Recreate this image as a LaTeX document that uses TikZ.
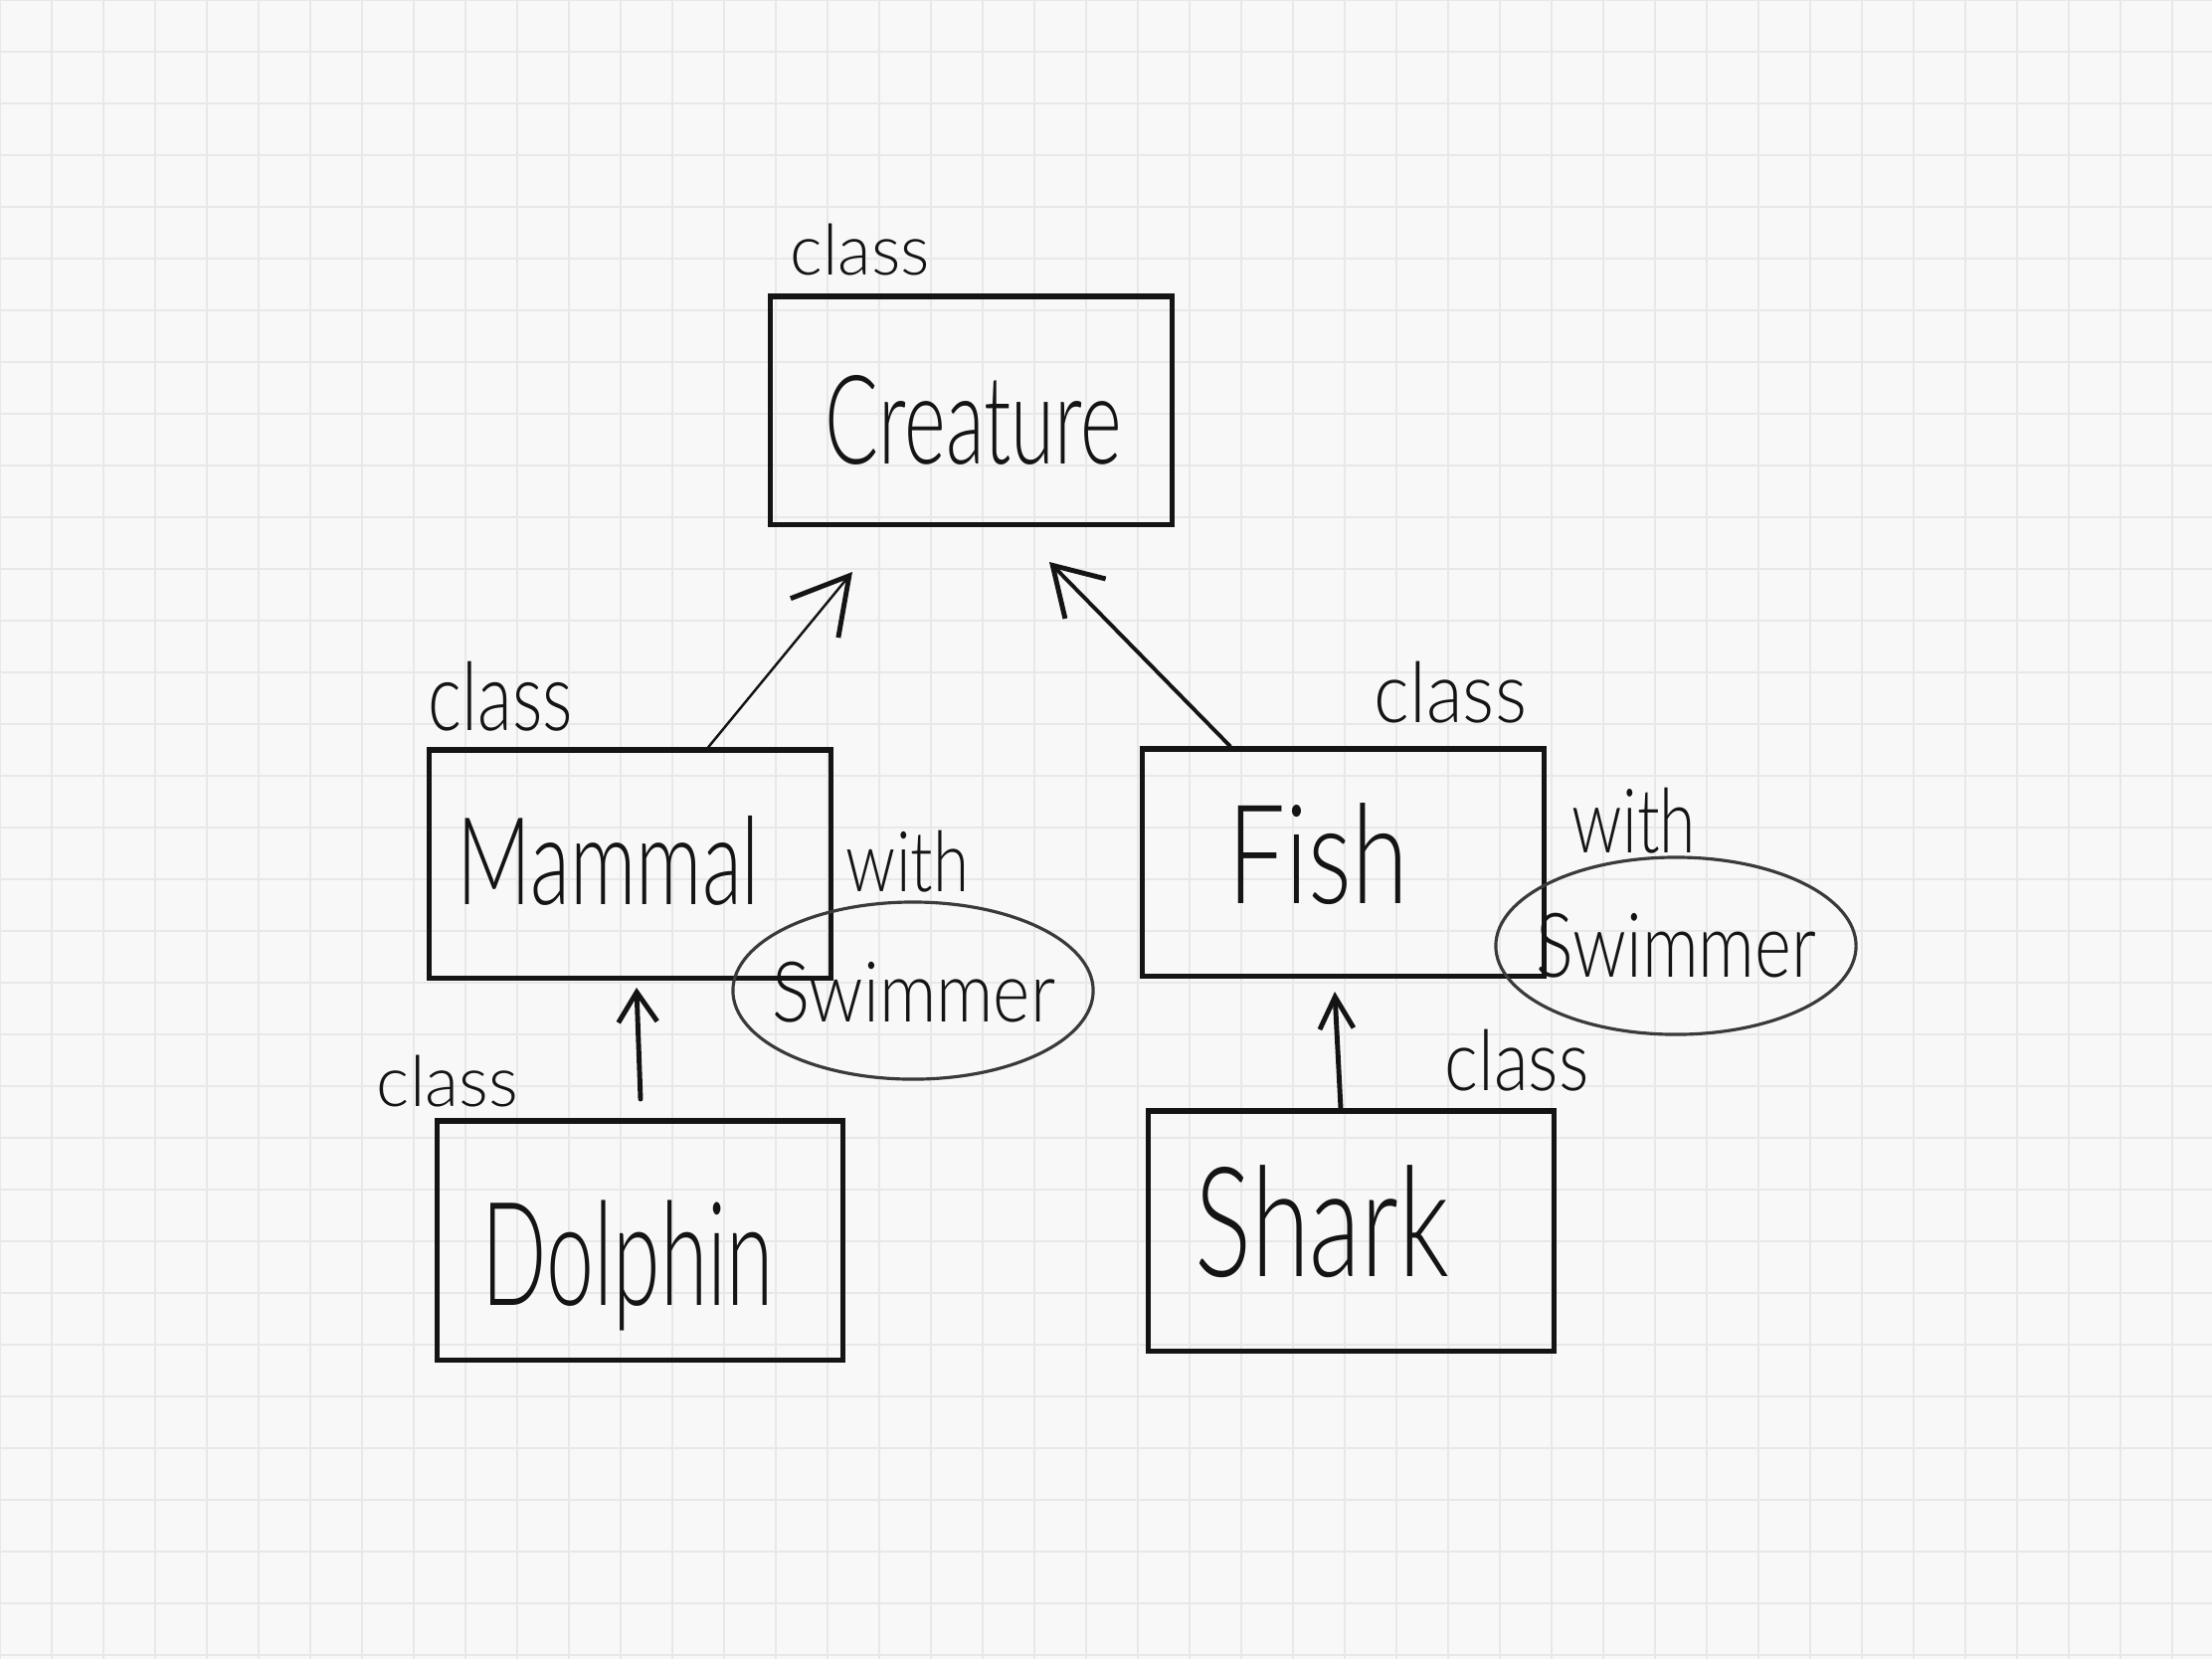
\documentclass[tikz,border=0pt]{standalone}
\usepackage{graphicx}
\usepackage{fontspec}
\newfontfamily\handfont{Lato Light}
\usetikzlibrary{arrows.meta,shapes.geometric}
\definecolor{paper}{HTML}{F8F8F8}
\definecolor{gridc}{HTML}{E8E8E8}
\definecolor{ink}{HTML}{141414}
\definecolor{ovalc}{HTML}{3A3A3A}
\newcommand\hw[3]{\resizebox*{#1cm}{#2cm}{\handfont #3}}
\begin{document}
\begin{tikzpicture}[x=0.01cm,y=-0.01cm,
  box/.style={draw=ink,line width=1.45pt,inner sep=0pt,rectangle},
  oval/.style={draw=ovalc,line width=0.9pt,ellipse,inner sep=0pt,minimum width=3.62cm,minimum height=1.78cm},
  lbl/.style={inner sep=0pt,text=ink},
  gl/.style={draw=gridc,line width=0.5pt},
  arr/.style={draw=ink,line cap=round,line join=round}
]
\useasboundingbox (0,0) rectangle (2224,1668);
\fill[paper] (0,0) rectangle (2224,1668);
\foreach \i in {0,...,42} \draw[gl] (\i*52,0) -- (\i*52,1668);
\foreach \j in {0,...,32} \draw[gl] (0,\j*52) -- (2224,\j*52);

% boxes
\node[box,minimum width=4.03cm,minimum height=2.29cm] (creature) at (976.5,412.5) {};
\node[box,minimum width=4.03cm,minimum height=2.29cm] (mammal) at (633.5,868.5) {};
\node[box,minimum width=4.03cm,minimum height=2.28cm] (fish) at (1350.5,867) {};
\node[box,minimum width=4.07cm,minimum height=2.40cm] (dolphin) at (643.5,1247) {};
\node[box,minimum width=4.07cm,minimum height=2.41cm] (shark) at (1358.5,1237.5) {};

% ellipses
\node[oval] (swim1) at (918,996) {};
\node[oval] (swim2) at (1685,951) {};

% texts
\node[lbl] (creatureC) at (865,251) {\hw{1.40}{0.52}{class}};
\node[lbl] (creatureT) at (979,422) {\hw{2.98}{0.90}{Creature}};
\node[lbl] (mammalC) at (503.5,700) {\hw{1.45}{0.70}{class}};
\node[lbl] (mammalT) at (612,865) {\hw{3.04}{0.90}{Mammal}};
\node[lbl] (with1) at (912.5,866) {\hw{1.23}{0.62}{with}};
\node[lbl] (swimT1) at (919,997.5) {\hw{2.84}{0.61}{Swimmer}};
\node[lbl] (fishC) at (1458.5,696) {\hw{1.53}{0.62}{class}};
\node[lbl] (fishT) at (1325.5,859) {\hw{1.81}{1.02}{Fish}};
\node[lbl] (with2) at (1643,825) {\hw{1.24}{0.66}{with}};
\node[lbl] (swimT2) at (1685.5,950.5) {\hw{2.81}{0.65}{Swimmer}};
\node[lbl] (dolphinC) at (450,1087) {\hw{1.42}{0.52}{class}};
\node[lbl] (dolphinT) at (631.5,1272.5) {\hw{2.93}{1.31}{Dolphin}};
\node[lbl] (sharkC) at (1525,1066) {\hw{1.45}{0.62}{class}};
\node[lbl] (sharkT) at (1329.5,1228.5) {\hw{2.55}{1.13}{Shark}};

% arrows
\coordinate (t1) at (857,575);
\coordinate (t2) at (1055,565);
\coordinate (t3) at (640,993);
\coordinate (t4) at (1342,997);
\coordinate (s3) at (644,1105);
\draw[arr,line width=0.7pt,-{Straight Barb[length=0.55cm,width=0.62cm,line width=1.4pt 0]}] (mammal.north -| 712,0) -- (t1);
\draw[arr,line width=1.1pt,-{Straight Barb[length=0.47cm,width=0.57cm,line width=1.4pt 0]}] (fish.north -| 1237,0) -- (t2);
\draw[arr,line width=1.4pt,-{Straight Barb[length=0.30cm,width=0.39cm]}] (s3) -- (t3);
\draw[arr,line width=1.4pt,-{Straight Barb[length=0.32cm,width=0.34cm]}] (shark.north -| 1348,0) -- (t4);
\end{tikzpicture}
\end{document}
